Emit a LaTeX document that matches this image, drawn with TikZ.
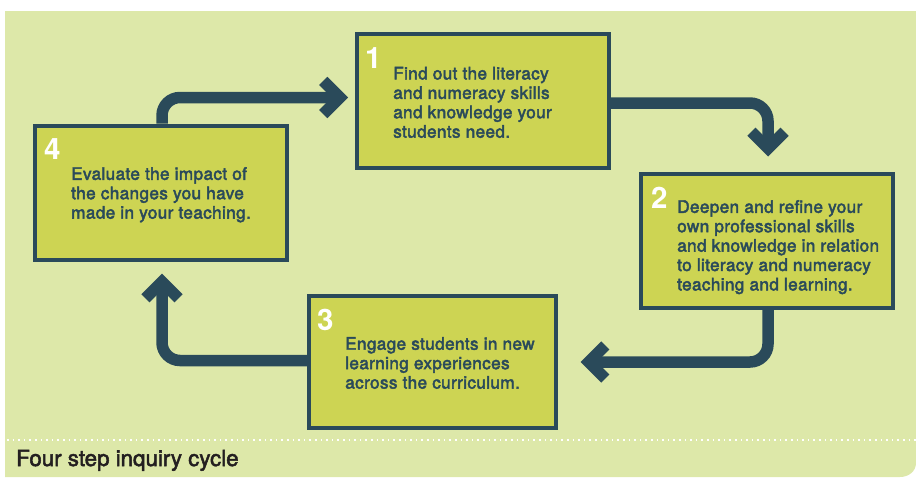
\documentclass[tikz,border=0pt]{standalone}
\usepackage{fontspec}
\setmainfont{TeX Gyre Heros}
\newfontfamily\medfont{TeX Gyre Heros}[FakeBold=2.6, LetterSpace=2.0]
\newfontfamily\capfont{TeX Gyre Heros}[FakeBold=2.2]
\usetikzlibrary{arrows.meta}
\definecolor{bgcol}{HTML}{DDE8A9}
\definecolor{boxcol}{HTML}{CDD453}
\definecolor{darkcol}{HTML}{2A4A5A}
\definecolor{capcol}{HTML}{231F20}
\begin{document}
\begin{tikzpicture}[x=1pt,y=-1pt,
  stepbox/.style={draw=darkcol, fill=boxcol, line width=4pt, minimum width=252pt, minimum height=134pt, inner sep=0pt},
  numtext/.style={text=white, font=\fontsize{29.5}{30}\selectfont\bfseries, inner sep=0pt, anchor=north west},
  bodytext/.style={text=darkcol, font=\fontsize{17.2}{19.4}\selectfont\medfont, inner sep=0pt, anchor=north west, align=left},
  conn/.style={draw=darkcol, line width=11.5pt, rounded corners=18pt, -{Straight Barb[length=16.6pt,width=33.2pt]}},
]
\useasboundingbox (0,0) rectangle (916,477);
\fill[bgcol] (5,11) -- (916,11) -- (916,463) .. controls (916,471) and (909,477) .. (900,477) -- (5,477) -- cycle;
\draw[white, line width=1.5pt, dash pattern=on 1.5pt off 4.1pt] (7,440) -- (916,440);

\node[stepbox] (b1) at (483,101) {};
\node[stepbox] (b4) at (161,192.5) {};
\node[stepbox] (b2) at (767,240.5) {};
\node[stepbox, minimum width=247pt, minimum height=132pt] (b3) at (432.5,362) {};

\draw[conn] ([xshift=1pt]b4.north) |- ([xshift=-7pt,yshift=3.5pt]b1.west);
\draw[conn] ([yshift=-2pt]b1.east) -| ([xshift=1pt,yshift=15pt]b2.north);
\draw[conn] ([xshift=1pt]b2.south) |- ([xshift=22.5pt]b3.east);
\draw[conn] ([yshift=1.5pt]b3.west) -| ([xshift=1pt,yshift=-12pt]b4.south);

\node[numtext] (n1) at (365,47) {1};
\node[bodytext] (t1) at (393,66.7) {Find out the literacy\\and numeracy skills\\and knowledge your\\students need.};
\node[numtext] (n2) at (651,187) {2};
\node[bodytext] (t2) at (677,200) {Deepen and refine your\\own professional skills\\and knowledge in relation\\to literacy and numeracy\\teaching and learning.};
\node[numtext] (n3) at (317,309) {3};
\node[bodytext] (t3) at (345,337) {Engage students in new\\learning experiences\\across the curriculum.};
\node[numtext] (n4) at (44,138) {4};
\node[bodytext] (t4) at (71,167) {Evaluate the impact of\\the changes you have\\made in your teaching.};

\node[anchor=base west, text=capcol, font=\fontsize{22.3}{24}\selectfont\capfont, inner sep=0pt] (cap) at (16,466) {Four step inquiry cycle};
\end{tikzpicture}
\end{document}
